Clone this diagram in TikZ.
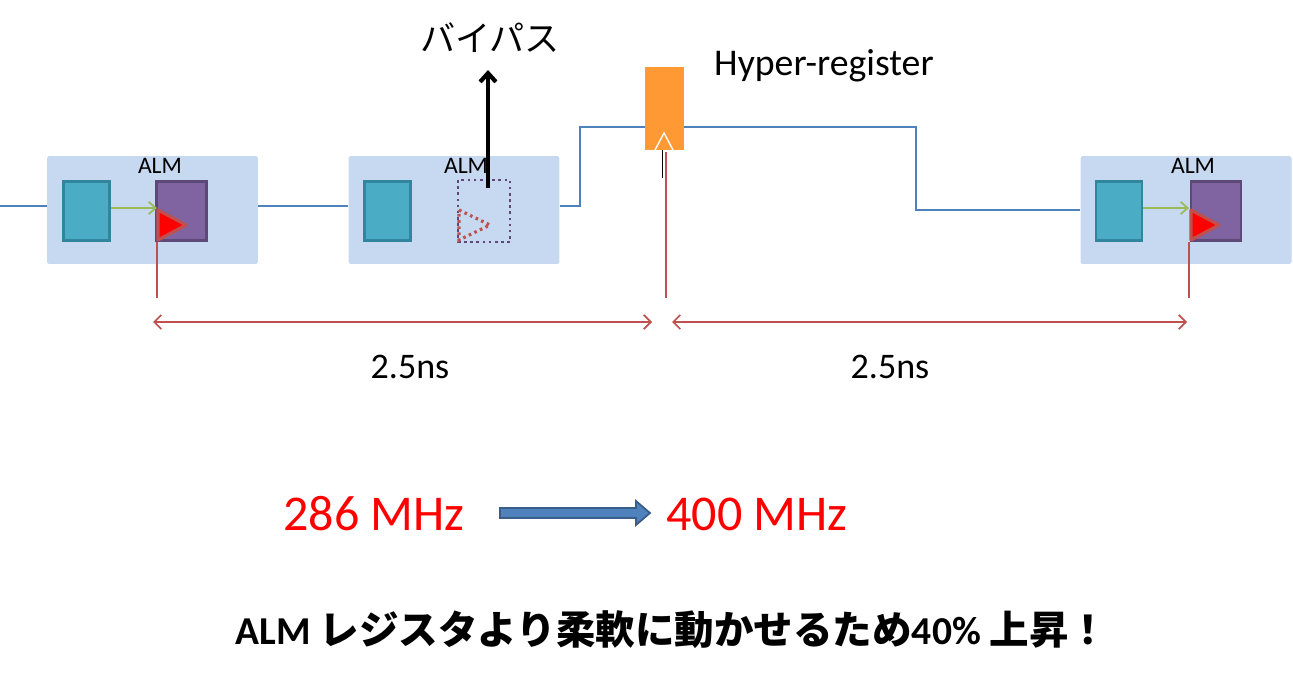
\documentclass[tikz,border=0pt]{standalone}
\usepackage{fontspec}
\setmainfont{Carlito}
\newfontfamily\cjk{Noto Sans CJK JP}
\usetikzlibrary{arrows.meta}
\definecolor{almbg}{RGB}{198,217,240}
\definecolor{cyanf}{RGB}{75,172,198}
\definecolor{cyand}{RGB}{49,133,156}
\definecolor{purf}{RGB}{128,100,162}
\definecolor{purd}{RGB}{93,72,120}
\definecolor{wire}{RGB}{79,129,189}
\definecolor{wired}{RGB}{56,93,138}
\definecolor{dimred}{RGB}{192,80,77}
\definecolor{regor}{RGB}{255,153,51}
\definecolor{lutgreen}{RGB}{155,187,89}
\tikzset{
  alm/.style={fill=almbg, rounded corners=1pt, minimum width=4.22cm, minimum height=2.16cm, inner sep=0pt},
  lut/.style={fill=cyanf, draw=cyand, line width=1.6pt, minimum width=0.92cm, minimum height=1.18cm, inner sep=0pt},
  ff/.style={fill=purf, draw=purd, line width=1.6pt, minimum width=1.0cm, minimum height=1.18cm, inner sep=0pt},
  ffoff/.style={draw=purd, dash pattern=on 1.5pt off 2pt, line width=1.6pt, minimum width=1.04cm, minimum height=1.24cm, inner sep=0pt},
  wireln/.style={draw=wire, line width=1pt},
  dim/.style={draw=dimred, line width=1pt},
  clk/.style={fill=red, draw=dimred, line width=1.8pt, line join=round},
  datarr/.style={-{Straight Barb[length=4pt,width=7pt]}, draw=lutgreen, line width=1pt},
}
\begin{document}
\begin{tikzpicture}[x=0.02cm, y=-0.02cm]
\useasboundingbox (0,0) rectangle (1293,678);
% ALM blocks
\node[alm] (alm1) at (152.5,210) {};
\node[alm] (alm2) at (454,210) {};
\node[alm] (alm3) at (1186,210) {};
\foreach \n/\x in {1/160, 2/466, 3/1193}
  \node[font=\fontsize{13.5}{15}\selectfont] (t\n) at (\x,166) {ALM};
% LUTs and registers
\node[lut] (lut1) at (86.5,211) {};
\node[ff] (ff1) at (181.5,211) {};
\node[lut] (lut2) at (387.5,211) {};
\node[ffoff] (ff2) at (484,211) {};
\node[lut] (lut3) at (1119,211) {};
\node[ff] (ff3) at (1216,211) {};
\draw[datarr] (lut1.east |- 0,208) -- (157,208);
\draw[datarr] (lut3.east |- 0,208) -- (1189,208);
% clock triangles
\draw[clk] (158,210) -- (186,225) -- (158,240) -- cycle;
\draw[clk] (1191,210) -- (1219,225) -- (1191,240) -- cycle;
\draw[draw=dimred, dash pattern=on 1.5pt off 2pt, line width=1.8pt] (459,210) -- (490,225) -- (459,240) -- cycle;
% wires
\coordinate (in) at (0,206);
\draw[wireln] (in) -- (alm1.west |- in);
\draw[wireln] (alm1.east |- in) -- (alm2.west |- in);
\node[fill=regor, minimum width=0.78cm, minimum height=1.66cm, inner sep=0pt] (hreg) at (664.5,108.5) {};
\draw[white, line width=0.8pt] (655,150) -- (664,133) -- (673,150);
\draw[wireln] (alm2.east |- in) -- (580,206) -- (580,127) -- (hreg.west |- 0,127);
\draw[wireln] (hreg.east |- 0,127) -- (916,127) -- (916,210) -- (alm3.west |- 0,210);
\draw[black, line width=1pt] (hreg.south) ++(-2,0) -- ++(0,28);
\node[font=\fontsize{21.5}{24}\selectfont, anchor=west] (hlabel) at (708,66) {Hyper-register};
% bypass
\coordinate (byp) at (488,188);
\node[font=\cjk\fontsize{20}{22}\selectfont] (bytxt) at (490,38) {バイパス};
\draw[-{Straight Barb[length=5pt,width=9pt]}, line width=2.4pt] (byp) -- (488,70);
% timing
\coordinate (c1) at (157,298);
\coordinate (c2) at (666,298);
\coordinate (c3) at (1189,298);
\draw[dim] (157,242) -- (c1);
\draw[dim] (666,152) -- (c2);
\draw[dim] (1189,242) -- (c3);
\draw[dim, {Straight Barb[length=4pt,width=8pt]}-{Straight Barb[length=4pt,width=8pt]}] (153,322) -- (652,322);
\draw[dim, {Straight Barb[length=4pt,width=8pt]}-{Straight Barb[length=4pt,width=8pt]}] (672,322) -- (1187,322);
\node[font=\fontsize{20.5}{23}\selectfont] (d1) at (410,367) {2.5ns};
\node[font=\fontsize{20.5}{23}\selectfont] (d2) at (890,367) {2.5ns};
% frequency
\node[red, font=\fontsize{28.5}{32}\selectfont] (f1) at (374,514) {286 MHz};
\node[red, font=\fontsize{28.5}{32}\selectfont] (f2) at (757,514) {400 MHz};
\draw[fill=wire, draw=wired, line width=1pt] (500,508) -- (636,508) -- (636,501) -- (650,513) -- (636,525) -- (636,518) -- (500,518) -- cycle;
\node[font=\bfseries\fontsize{22.5}{26}\selectfont] (note) at (672,630) {ALM {\cjk\bfseries レジスタより柔軟に動かせるため}40\% {\cjk\bfseries 上昇！}};
\end{tikzpicture}
\end{document}
